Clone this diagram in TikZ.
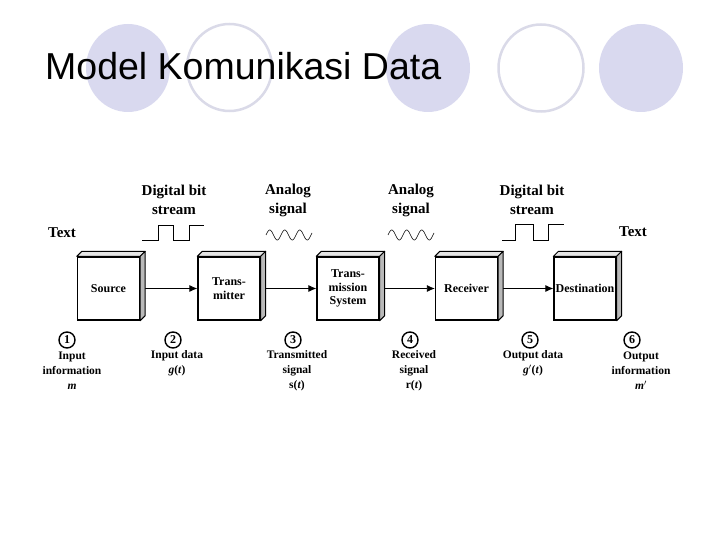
\documentclass[tikz,border=0pt]{standalone}
\usepackage{fontspec}
\setmainfont{Liberation Serif}
\newfontfamily\titlefont{Liberation Sans}
\definecolor{lavender}{RGB}{217,217,239}
\definecolor{ringgray}{RGB}{218,218,232}
\usetikzlibrary{arrows.meta,positioning,calc}

\begin{document}
\begin{tikzpicture}[
    x=1pt, y=-1pt,
    blok/.style={rectangle, draw, line width=1.3pt, fill=white, minimum width=62pt, minimum height=63pt, inner sep=1pt, align=center, font=\bfseries\fontsize{12}{13.5}\selectfont},
    lbl/.style={align=center, font=\bfseries\fontsize{15}{19}\selectfont},
    sub/.style={align=center, font=\bfseries\fontsize{11.5}{15}\selectfont},
    nr/.style={circle, draw, line width=1.4pt, minimum size=16pt, inner sep=0pt, font=\bfseries\fontsize{12}{12}\selectfont},
    pijl/.style={-{Latex[length=8pt,width=7pt]}, line width=0.8pt}
]
    \useasboundingbox (0,0) rectangle (720,540);

    % background decoration
    \fill[lavender] (128,68) ellipse (42 and 44);
    \draw[ringgray, line width=2.5pt] (229.5,67.5) ellipse (42.5 and 43.5);
    \fill[lavender] (428,68) ellipse (42 and 44);
    \draw[ringgray, line width=2.5pt] (541,68) ellipse (42.5 and 43.5);
    \fill[lavender] (641,68) ellipse (42 and 44);
    \node[anchor=base west, inner sep=0pt, font=\titlefont\fontsize{37.5}{37.5}\selectfont] (titel) at (45,80) {Model Komunikasi Data};

    % blocks
    \node[blok] (src) at (108.5,288.5) {Source};
    \node[blok] (tx) at (229,288.5) {Trans-\\mitter};
    \node[blok] (sys) at (348,288.5) {Trans-\\mission\\System};
    \node[blok] (rx) at (466.5,288.5) {Receiver};
    \node[blok] (dst) at (585,288.5) {Destination};

    \draw[pijl] (src.east) -- (tx.west);
    \draw[pijl] (tx.east) -- (sys.west);
    \draw[pijl] (sys.east) -- (rx.west);
    \draw[pijl] (rx.east) -- (dst.west);

    \foreach \b in {src,tx,sys,rx,dst}{
        \draw[line width=1pt, fill=gray!20, line join=round] (\b.north west) -- ++(5,-5) -- ($(\b.north east)+(5,-5)$) -- (\b.north east) -- cycle;
        \draw[line width=1pt, fill=gray!55, line join=round] (\b.north east) -- ++(5,-5) -- ($(\b.south east)+(5,-5)$) -- (\b.south east) -- cycle;
    }

    % top labels
    \node[lbl] (txt1) at (62,233) {Text};
    \node[lbl] (dig1) at (174,200) {Digital bit\\stream};
    \node[lbl] (ana1) at (288,200) {Analog\\signal};
    \node[lbl] (ana2) at (411,200) {Analog\\signal};
    \node[lbl] (dig2) at (532,200) {Digital bit\\stream};
    \node[lbl] (txt2) at (633,232) {Text};

    % waveforms
    \draw[line width=0.9pt] (142,240) -- ++(16,0) -- ++(0,-15) -- ++(15,0) -- ++(0,15) -- ++(16,0) -- ++(0,-15) -- ++(15,0);
    \draw[line width=0.9pt] (502,240) -- ++(13,0) -- ++(0,-16) -- ++(18,0) -- ++(0,16) -- ++(15,0) -- ++(0,-16) -- ++(16,0);
    \draw[line width=0.6pt] plot[domain=0:46, samples=90] ({266+\x},{235-5*sin(24*\x)});
    \draw[line width=0.6pt] plot[domain=0:46, samples=90] ({388+\x},{235-5*sin(24*\x)});

    % points in the chain
    \node[nr] (n1) at (67,340) {1};
    \node[nr] (n2) at (173,340) {2};
    \node[nr] (n3) at (293,340) {3};
    \node[nr] (n4) at (410,340) {4};
    \node[nr] (n5) at (530,340) {5};
    \node[nr] (n6) at (632,340) {6};

    \node[sub] (s1) at (72,371) {Input\\information\\\textit{m}};
    \node[sub] (s2) at (177,363.5) {Input data\\\textit{g}(\textit{t})};
    \node[sub] (s3) at (297,371) {Transmitted\\signal\\s(\textit{t})};
    \node[sub] (s4) at (414,371) {Received\\signal\\r(\textit{t})};
    \node[sub] (s5) at (533,363.5) {Output data\\\textit{g}$'$(\textit{t})};
    \node[sub] (s6) at (641,371) {Output\\information\\\textit{m}$'$};
\end{tikzpicture}
\end{document}
